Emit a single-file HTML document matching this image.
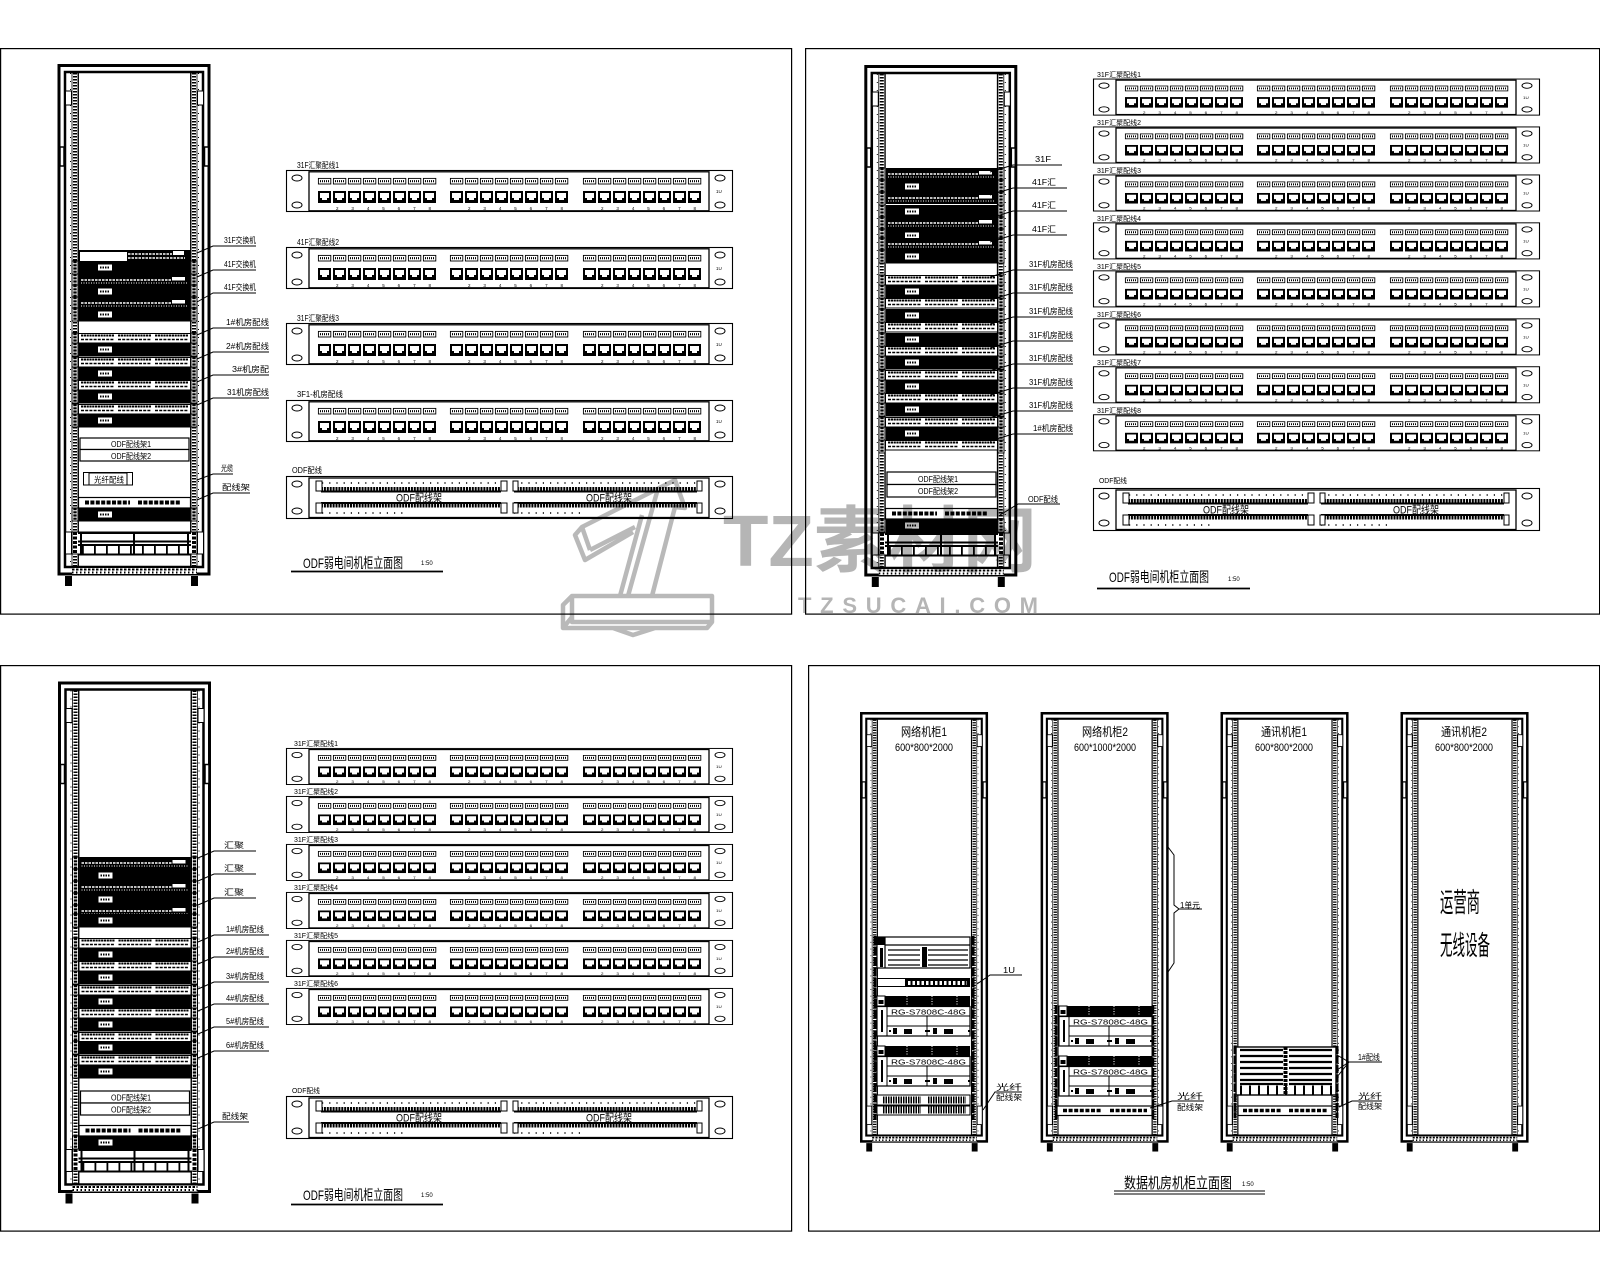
<!DOCTYPE html>
<html><head><meta charset="utf-8"><title>机柜立面图</title>
<style>html,body{margin:0;padding:0;background:#fff}svg{display:block}text{font-family:"Liberation Sans","Noto Sans CJK SC",sans-serif;fill:#000}</style></head>
<body>
<svg xmlns="http://www.w3.org/2000/svg" width="1600" height="1280" viewBox="0 0 1600 1280">
<defs>
<g id="rack">
<rect x="1.5" y="1.5" width="150" height="508.5" fill="#fff" stroke="#000" stroke-width="3"/>
<rect x="7.5" y="8" width="138" height="495" fill="none" stroke="#000" stroke-width="2.5"/>
<rect x="14.5" y="9" width="6" height="493" fill="#fff" stroke="#000" stroke-width=".8"/>
<rect x="133.5" y="9" width="6" height="493" fill="#fff" stroke="#000" stroke-width=".8"/>
<path d="M17.5 9V502M136.5 9V502" stroke="#000" stroke-width="4" stroke-dasharray="1.5 1.5" fill="none"/>
<path d="M20.8 9V502M133.2 9V502" stroke="#000" stroke-width="1.3" fill="none"/>
<path d="M13 9V502M141 9V502" stroke="#000" stroke-width="1" stroke-dasharray="1 7" fill="none"/>
<g fill="#fff" stroke="#000" stroke-width="1"><rect x="8" y="27" width="6" height="14"/><rect x="140" y="27" width="6" height="14"/><rect x="8" y="468" width="6" height="22"/><rect x="140" y="468" width="6" height="22"/></g>
<g fill="#fff" stroke="#000" stroke-width="1.5"><rect x="2.5" y="83" width="4" height="19"/><rect x="147" y="83" width="4" height="19"/></g>
<rect x="14.5" y="504" width="125" height="6" fill="#fff"/>
<path d="M14.5 505.5H139.5" stroke="#000" stroke-width="2" stroke-dasharray="2.5 1.5" fill="none"/>
<path d="M14.5 508.5H139.5" stroke="#000" stroke-width="2" stroke-dasharray="1.5 2.5" fill="none"/>
<rect x="7.5" y="512" width="7" height="10"/><rect x="133.5" y="512" width="7" height="10"/>
</g>
<g id="ear"><rect x="-6" width="6" height="13" fill="#fff" stroke="#000" stroke-width="1"/><rect x="113" width="6" height="13" fill="#fff" stroke="#000" stroke-width="1"/><path d="M-3 0V13M116 0V13" stroke="#000" stroke-width="3.4" stroke-dasharray="2.2 1"/></g>
<g id="b"><use href="#ear"/><rect x="1" width="111" height="13.5"/><rect x="20" y="3.5" width="14" height="6" fill="#fff"/><path d="M22 6.5H32" stroke="#000" stroke-width="2" stroke-dasharray="1.5 1"/></g>
<g id="s"><use href="#ear"/><rect x="1" width="111" height="12"/><path d="M3 6H93" stroke="#fff" stroke-width="1.5" stroke-dasharray="2.5 1"/><path d="M3 9H109" stroke="#fff" stroke-width="1" stroke-dasharray="1 1.5"/><rect x="94" y="3" width="13" height="3.5" fill="#fff"/></g>
<g id="pg"><path d="M0 2.5H33" stroke="#000" stroke-width="2" stroke-dasharray="2.2 .6"/><path d="M0 6.5H33" stroke="#000" stroke-width="1.6" stroke-dasharray="3 1.2"/></g>
<g id="pp"><use href="#ear"/><rect x=".5" y=".5" width="112" height="9.5" fill="#fff" stroke="#000"/><use href="#pg" x="3"/><use href="#pg" x="40"/><use href="#pg" x="77"/></g>
<g id="pd"><rect x=".5" y=".5" width="112" height="10.5" fill="#fff" stroke="#000" stroke-width="1.2"/><path d="M7 5.5H52M60 5.5H103" stroke="#000" stroke-width="4" stroke-dasharray="4 1.4"/></g>
<g id="bot"><rect x="-6" y="0" width="125" height="22" fill="#fff" stroke="#000" stroke-width="1"/><path d="M0 1H113M0 9.5H113M0 13H113M0 22.5H113" stroke="#000" stroke-width="2"/><path d="M56 0V22M3 0V22M110 0V22" stroke="#000" stroke-width="2"/><path d="M4 18H110" stroke="#000" stroke-width="9" stroke-dasharray="1.8 10.2"/><path d="M-3 0V22M116 0V22" stroke="#000" stroke-width="4" stroke-dasharray="3 1.5"/></g>
<g id="j"><rect width="13" height="12"/><path fill="#fff" d="M2 2h9v5h-2v2h-5v-2h-2z"/></g>
<g id="l"><rect x=".4" y=".4" width="12.4" height="5.6" fill="#fff" stroke="#000" stroke-width=".9"/><path d="M2 3.2H11" stroke="#000" stroke-width="2.2" stroke-dasharray="1 1"/></g>
<g id="g8"><use href="#l" x="0" y="8"/><use href="#l" x="15" y="8"/><use href="#l" x="30" y="8"/><use href="#l" x="45" y="8"/><use href="#l" x="60" y="8"/><use href="#l" x="75" y="8"/><use href="#l" x="90" y="8"/><use href="#l" x="105" y="8"/>
<use href="#j" y="21"/><use href="#j" x="15" y="21"/><use href="#j" x="30" y="21"/><use href="#j" x="45" y="21"/><use href="#j" x="60" y="21"/><use href="#j" x="75" y="21"/><use href="#j" x="90" y="21"/><use href="#j" x="105" y="21"/></g>
<g id="p"><rect x=".5" y=".5" width="446" height="41" fill="#fff" stroke="#000" stroke-width="1.1"/><rect x="23" y="1.8" width="400" height="39" fill="#fff" stroke="#000" stroke-width="1.3"/>
<g fill="#fff" stroke="#000" stroke-width="1"><ellipse cx="11" cy="8" rx="5" ry="3"/><ellipse cx="11" cy="35" rx="5" ry="3"/><ellipse cx="434" cy="8" rx="5" ry="3"/><ellipse cx="434" cy="35" rx="5" ry="3"/></g>
<use href="#g8" x="32"/><use href="#g8" x="164"/><use href="#g8" x="297"/>
<text x="50" y="40" font-size="4.5" textLength="95">2 3 4 5 6 7 8</text><text x="182" y="40" font-size="4.5" textLength="95">2 3 4 5 6 7 8</text><text x="315" y="40" font-size="4.5" textLength="95">2 3 4 5 6 7 8</text><text x="430" y="23" font-size="4.5">1U</text></g>
<g id="o"><rect x=".5" y=".5" width="446" height="42" fill="#fff" stroke="#000" stroke-width="1.1"/><rect x="23" y="2" width="400" height="39.5" fill="#fff" stroke="#000" stroke-width="1.3"/>
<g fill="#fff" stroke="#000" stroke-width="1"><ellipse cx="11" cy="8" rx="5" ry="3"/><ellipse cx="11" cy="35" rx="5" ry="3"/><ellipse cx="434" cy="8" rx="5" ry="3"/><ellipse cx="434" cy="35" rx="5" ry="3"/></g>
<path d="M35 13.5H215M228 13.5H411M35 29H215M228 29H411" stroke="#000" stroke-width="5" stroke-dasharray="2 .9"/>
<path d="M35 15.5H215M228 15.5H411M35 27H215M228 27H411" stroke="#000" stroke-width="2"/>
<path d="M36 7H215M228 7H411M36 37H120M228 37H300" stroke="#000" stroke-width="1.4" stroke-dasharray="1.2 6"/>
<g fill="#fff" stroke="#000" stroke-width="1"><rect x="30" y="5" width="6" height="10"/><rect x="215" y="5" width="6" height="10"/><rect x="227" y="5" width="5" height="10"/><rect x="411" y="5" width="5" height="10"/><rect x="30" y="27" width="6" height="10"/><rect x="215" y="27" width="6" height="10"/><rect x="227" y="27" width="5" height="10"/><rect x="411" y="27" width="5" height="10"/></g>
<text x="110" y="25.5" font-size="11" textLength="46" lengthAdjust="spacingAndGlyphs">ODF配线架</text><text x="300" y="25.5" font-size="11" textLength="46" lengthAdjust="spacingAndGlyphs">ODF配线架</text></g>
<g id="c"><rect x="8" width="85" height="10"/><path d="M30 0V10M55 0V10M80 0V10" stroke="#fff" stroke-width="1" stroke-dasharray="1 1.5"/><rect x="0" y="0" width="8" height="10" fill="#fff" stroke="#000"/><rect x="1.5" y="4" width="5" height="4"/>
<rect x="0" y="10.5" width="93" height="29.5" fill="#fff" stroke="#000" stroke-width="1.2"/><path d="M10 10.5V40M10 20H93M10 30H93M50 20V40" stroke="#000" stroke-width="1" fill="none"/><rect x="4" y="14" width="2" height="22"/>
<text x="14" y="18.5" font-size="7.5" textLength="75" lengthAdjust="spacingAndGlyphs">RG-S7808C-48G</text>
<rect x="16" y="32" width="4" height="6"/><rect x="27" y="33" width="8" height="5"/><rect x="56" y="32" width="4" height="6"/><rect x="67" y="33" width="9" height="5"/><path d="M12 35H14M48 35H53M91 35H93" stroke="#000" stroke-width="2"/></g>
</defs>
<rect width="1600" height="1280" fill="#fff"/>
<!-- frames -->
<g fill="none" stroke="#000" stroke-width="1.2"><rect x=".6" y="48.6" width="791" height="565.5"/><rect x="805.6" y="48.6" width="794" height="565.5"/><rect x=".6" y="665.6" width="791" height="565.5"/><rect x="808.6" y="665.6" width="791" height="565.5"/></g>

<!-- F1 rack -->
<use href="#rack" x="57.5" y="64"/>
<rect x="78" y="250" width="113" height="11"/><rect x="80" y="252" width="47" height="9" fill="#fff"/><path d="M128 254H172M128 258H185" stroke="#fff" stroke-width="1.5" stroke-dasharray="2.5 1"/><rect x="173" y="251" width="11" height="4" fill="#fff"/>
<use href="#b" x="78" y="261"/><use href="#s" x="78" y="274"/><use href="#b" x="78" y="285"/><use href="#s" x="78" y="297"/><use href="#b" x="78" y="308"/>
<use href="#pp" x="78" y="333"/><use href="#b" x="78" y="343"/><use href="#pp" x="78" y="357"/><use href="#b" x="78" y="367"/><use href="#pp" x="78" y="380"/><use href="#b" x="78" y="390"/><use href="#pp" x="78" y="404"/><use href="#b" x="78" y="414"/>
<rect x="80" y="438" width="109" height="11.5" fill="#fff" stroke="#000" stroke-width="1.2"/><rect x="80" y="449.5" width="109" height="11.5" fill="#fff" stroke="#000" stroke-width="1.2"/>
<text x="111" y="447" font-size="8" textLength="40" lengthAdjust="spacingAndGlyphs">ODF配线架1</text><text x="111" y="459" font-size="8" textLength="40" lengthAdjust="spacingAndGlyphs">ODF配线架2</text>
<rect x="83.5" y="472.5" width="49" height="12.5" fill="#fff" stroke="#000"/><rect x="89" y="473" width="38" height="12" fill="#fff" stroke="#000"/><text x="94" y="482.5" font-size="8" textLength="30" lengthAdjust="spacingAndGlyphs">光纤配线</text>
<use href="#pd" x="78" y="497"/><use href="#b" x="78" y="508"/><use href="#bot" x="78" y="532"/>
<!-- F2 rack -->
<use href="#rack" x="864.3" y="65"/>
<use href="#s" x="885" y="168"/><use href="#b" x="885" y="180"/><use href="#s" x="885" y="192"/><use href="#b" x="885" y="205"/><use href="#s" x="885" y="217"/><use href="#b" x="885" y="229"/><use href="#s" x="885" y="238"/><use href="#b" x="885" y="250"/>
<use href="#pp" x="885" y="275"/><use href="#b" x="885" y="285"/><use href="#pp" x="885" y="298"/><use href="#b" x="885" y="309"/><use href="#pp" x="885" y="322"/><use href="#b" x="885" y="333"/><use href="#pp" x="885" y="346"/><use href="#b" x="885" y="356"/><use href="#pp" x="885" y="370"/><use href="#b" x="885" y="380"/><use href="#pp" x="885" y="393"/><use href="#b" x="885" y="403"/><use href="#pp" x="885" y="417"/><use href="#b" x="885" y="427"/><use href="#pp" x="885" y="440"/>
<rect x="887" y="472" width="109" height="12.5" fill="#fff" stroke="#000" stroke-width="1.2"/><rect x="887" y="484.5" width="109" height="12.5" fill="#fff" stroke="#000" stroke-width="1.2"/>
<text x="918" y="482" font-size="8" textLength="40" lengthAdjust="spacingAndGlyphs">ODF配线架1</text><text x="918" y="494" font-size="8" textLength="40" lengthAdjust="spacingAndGlyphs">ODF配线架2</text>
<use href="#pd" x="885" y="508"/><use href="#b" x="885" y="519"/><use href="#bot" x="885" y="533"/>
<!-- F3 rack -->
<use href="#rack" x="58" y="681.5"/>
<use href="#s" x="78.5" y="857"/><use href="#b" x="78.5" y="869"/><use href="#s" x="78.5" y="881"/><use href="#b" x="78.5" y="893"/><use href="#s" x="78.5" y="905"/><use href="#b" x="78.5" y="914"/>
<use href="#pp" x="78.5" y="938"/><use href="#b" x="78.5" y="948"/><use href="#pp" x="78.5" y="961"/><use href="#b" x="78.5" y="971"/><use href="#pp" x="78.5" y="985"/><use href="#b" x="78.5" y="995"/><use href="#pp" x="78.5" y="1008"/><use href="#b" x="78.5" y="1018"/><use href="#pp" x="78.5" y="1032"/><use href="#b" x="78.5" y="1041"/><use href="#pp" x="78.5" y="1055"/><use href="#b" x="78.5" y="1065"/>
<rect x="80.5" y="1091" width="109" height="12" fill="#fff" stroke="#000" stroke-width="1.2"/><rect x="80.5" y="1103" width="109" height="12" fill="#fff" stroke="#000" stroke-width="1.2"/>
<text x="111" y="1100.5" font-size="8" textLength="40" lengthAdjust="spacingAndGlyphs">ODF配线架1</text><text x="111" y="1112.5" font-size="8" textLength="40" lengthAdjust="spacingAndGlyphs">ODF配线架2</text>
<use href="#pd" x="78.5" y="1125"/><use href="#b" x="78.5" y="1136"/><use href="#bot" x="78.5" y="1149"/>
<!-- F4 racks -->
<use href="#rack" transform="translate(860,712) scale(.837,.842)"/><use href="#rack" transform="translate(1040.6,712) scale(.837,.842)"/><use href="#rack" transform="translate(1220.5,712) scale(.837,.842)"/><use href="#rack" transform="translate(1400.5,712) scale(.837,.842)"/>
<g text-anchor="middle">
<text x="924" y="736" font-size="12" textLength="46" lengthAdjust="spacingAndGlyphs">网络机柜1</text><text x="924" y="751" font-size="11" textLength="58" lengthAdjust="spacingAndGlyphs">600*800*2000</text>
<text x="1105" y="736" font-size="12" textLength="46" lengthAdjust="spacingAndGlyphs">网络机柜2</text><text x="1105" y="751" font-size="11" textLength="62" lengthAdjust="spacingAndGlyphs">600*1000*2000</text>
<text x="1284" y="736" font-size="12" textLength="46" lengthAdjust="spacingAndGlyphs">通讯机柜1</text><text x="1284" y="751" font-size="11" textLength="58" lengthAdjust="spacingAndGlyphs">600*800*2000</text>
<text x="1464" y="736" font-size="12" textLength="46" lengthAdjust="spacingAndGlyphs">通讯机柜2</text><text x="1464" y="751" font-size="11" textLength="58" lengthAdjust="spacingAndGlyphs">600*800*2000</text>
<text x="1460" y="912" font-size="27" textLength="40" lengthAdjust="spacingAndGlyphs">运营商</text><text x="1465" y="955" font-size="27" textLength="50" lengthAdjust="spacingAndGlyphs">无线设备</text>
</g>
<!-- rack 1 units -->
<rect x="877" y="937" width="93" height="31" fill="#fff" stroke="#000" stroke-width="1.2"/><path d="M885 937V968M885 945H970M888 950H920M928 950H968M888 955H920M928 955H968M888 960H920M928 960H968M888 965H920M928 965H968" stroke="#000" fill="none" stroke-width="1.2"/><rect x="877" y="937" width="8" height="8"/><rect x="880" y="948" width="3" height="19"/><rect x="922" y="947" width="5" height="20"/>
<rect x="877" y="978" width="93" height="9"/><rect x="878" y="979" width="27" height="7" fill="#fff"/><path d="M908 983H967" stroke="#fff" stroke-width="4" stroke-dasharray="2.5 2"/>
<use href="#c" x="877" y="996"/><use href="#c" x="877" y="1046"/>
<rect x="877" y="1095" width="93" height="10" fill="#fff" stroke="#000"/><rect x="877" y="1106" width="93" height="9" fill="#fff" stroke="#000"/><path d="M883 1100H921M928 1100H966M883 1110H921M928 1110H966" stroke="#000" stroke-width="7" stroke-dasharray="1.5 1"/>
<path d="M875 936V1120M973 936V1120" stroke="#000" stroke-width="3" stroke-dasharray="9 1.5"/>
<!-- rack 2 units -->
<use href="#c" x="1059" y="1006"/><use href="#c" x="1059" y="1056"/>
<rect x="1057" y="1106" width="95" height="9.5" fill="#fff" stroke="#000" stroke-width="1.2"/><path d="M1063 1110.5H1101M1110 1110.5H1147" stroke="#000" stroke-width="3.5" stroke-dasharray="4 1.6"/>
<path d="M1056 1005V1120M1153 1005V1120" stroke="#000" stroke-width="2.5" stroke-dasharray="9 1.5"/>
<!-- rack 3 units -->
<rect x="1236" y="1047" width="100" height="48" fill="#fff" stroke="#000" stroke-width="1.4"/><path d="M1240 1050H1283M1289 1050H1332M1240 1056H1283M1289 1056H1332M1240 1062H1283M1289 1062H1332M1240 1068H1283M1289 1068H1332M1240 1074H1283M1289 1074H1332M1240 1080H1283M1289 1080H1332M1240 1084H1283M1289 1084H1332" stroke="#000" stroke-width="2.2"/>
<path d="M1285.5 1047V1095" stroke="#000" stroke-width="4" stroke-dasharray="3 1"/>
<path d="M1240 1090H1332" stroke="#000" stroke-width="9" stroke-dasharray="2 7"/>
<rect x="1238" y="1106" width="94" height="9.5" fill="#fff" stroke="#000" stroke-width="1.2"/><path d="M1243 1110.5H1281M1289 1110.5H1327" stroke="#000" stroke-width="3.5" stroke-dasharray="4 1.6"/>
<path d="M1235 1046V1118M1337 1046V1118" stroke="#000" stroke-width="3" stroke-dasharray="8 1.5"/>
<!-- panels F1 -->
<use href="#p" x="286" y="170"/><use href="#p" x="286" y="247"/><use href="#p" x="286" y="323"/><use href="#p" x="286" y="400"/><use href="#o" x="286" y="476"/>
<g font-size="8"><text x="297" y="168" textLength="42" lengthAdjust="spacingAndGlyphs">31F汇聚配线1</text><text x="297" y="245" textLength="42" lengthAdjust="spacingAndGlyphs">41F汇聚配线2</text><text x="297" y="321" textLength="42" lengthAdjust="spacingAndGlyphs">31F汇聚配线3</text><text x="297" y="397" textLength="46" lengthAdjust="spacingAndGlyphs">3F1-机房配线</text><text x="292" y="473" textLength="30" lengthAdjust="spacingAndGlyphs">ODF配线</text></g>
<!-- panels F2 -->
<g transform="translate(1093,78.6) scale(1,.88)"><use href="#p"/></g><g transform="translate(1093,126.5) scale(1,.88)"><use href="#p"/></g><g transform="translate(1093,174.5) scale(1,.88)"><use href="#p"/></g><g transform="translate(1093,222.4) scale(1,.88)"><use href="#p"/></g><g transform="translate(1093,270.4) scale(1,.88)"><use href="#p"/></g><g transform="translate(1093,318.4) scale(1,.88)"><use href="#p"/></g><g transform="translate(1093,366.3) scale(1,.88)"><use href="#p"/></g><g transform="translate(1093,414.3) scale(1,.88)"><use href="#p"/></g>
<use href="#o" x="1093" y="488"/>
<g font-size="7"><text x="1097" y="77" textLength="44" lengthAdjust="spacingAndGlyphs">31F汇聚配线1</text><text x="1097" y="125" textLength="44" lengthAdjust="spacingAndGlyphs">31F汇聚配线2</text><text x="1097" y="173" textLength="44" lengthAdjust="spacingAndGlyphs">31F汇聚配线3</text><text x="1097" y="221" textLength="44" lengthAdjust="spacingAndGlyphs">31F汇聚配线4</text><text x="1097" y="269" textLength="44" lengthAdjust="spacingAndGlyphs">31F汇聚配线5</text><text x="1097" y="317" textLength="44" lengthAdjust="spacingAndGlyphs">31F汇聚配线6</text><text x="1097" y="365" textLength="44" lengthAdjust="spacingAndGlyphs">31F汇聚配线7</text><text x="1097" y="413" textLength="44" lengthAdjust="spacingAndGlyphs">31F汇聚配线8</text><text x="1099" y="483" textLength="28" lengthAdjust="spacingAndGlyphs">ODF配线</text></g>
<!-- panels F3 -->
<g transform="translate(286,748) scale(1,.88)"><use href="#p"/></g><g transform="translate(286,796) scale(1,.88)"><use href="#p"/></g><g transform="translate(286,844) scale(1,.88)"><use href="#p"/></g><g transform="translate(286,892) scale(1,.88)"><use href="#p"/></g><g transform="translate(286,940) scale(1,.88)"><use href="#p"/></g><g transform="translate(286,988) scale(1,.88)"><use href="#p"/></g>
<use href="#o" x="286" y="1096"/>
<g font-size="7"><text x="294" y="746" textLength="44" lengthAdjust="spacingAndGlyphs">31F汇聚配线1</text><text x="294" y="794" textLength="44" lengthAdjust="spacingAndGlyphs">31F汇聚配线2</text><text x="294" y="842" textLength="44" lengthAdjust="spacingAndGlyphs">31F汇聚配线3</text><text x="294" y="890" textLength="44" lengthAdjust="spacingAndGlyphs">31F汇聚配线4</text><text x="294" y="938" textLength="44" lengthAdjust="spacingAndGlyphs">31F汇聚配线5</text><text x="294" y="986" textLength="44" lengthAdjust="spacingAndGlyphs">31F汇聚配线6</text><text x="292" y="1093" textLength="28" lengthAdjust="spacingAndGlyphs">ODF配线</text></g>
<!-- leaders -->
<path fill="none" stroke="#000" stroke-width="1" d="M197 253L213 246H256M197 277L213 270H256M197 302L213 293H256M197 335L213 328H269M197 359L213 352H269M197 382L213 375H269M197 405L213 398H269M197 480L213 474H233M197 500L213 493H250
M990 172L1013 165H1062M990 195L1013 188H1067M990 218L1013 211H1067M990 242L1013 235H1067M990 277L1013 270H1073M990 300L1013 293H1073M990 324L1013 317H1073M990 348L1013 341H1073M990 371L1013 364H1073M990 395L1013 388H1073M990 418L1013 411H1073M990 441L1013 434H1073M1000 515L1018 504H1060
M198 858L214 851H256M198 881L214 874H256M198 905L214 898H256M198 942L214 935H269M198 964L214 957H269M198 989L214 982H269M198 1011L214 1004H269M198 1034L214 1027H269M198 1058L214 1051H269M198 1129L214 1122H249
M977 984L990 975H1022M983 1110L995 1092H1022M1150 1108L1172 1101H1204M1337 1055L1349 1062H1382M1337 1070L1349 1062M1337 1077L1349 1062M1339 1107L1352 1101H1382
M1168 847L1174 855V905L1179 909L1174 913V963L1168 972M1179 909H1202"/>
<g font-size="8">
<text x="224" y="243" textLength="32" lengthAdjust="spacingAndGlyphs">31F交换机</text><text x="224" y="267" textLength="32" lengthAdjust="spacingAndGlyphs">41F交换机</text><text x="224" y="290" textLength="32" lengthAdjust="spacingAndGlyphs">41F交换机</text>
<text x="226" y="325" textLength="43" lengthAdjust="spacingAndGlyphs">1#机房配线</text><text x="226" y="349" textLength="43" lengthAdjust="spacingAndGlyphs">2#机房配线</text><text x="232" y="372" textLength="37" lengthAdjust="spacingAndGlyphs">3#机房配</text><text x="227" y="395" textLength="42" lengthAdjust="spacingAndGlyphs">31机房配线</text><text x="221" y="471" textLength="12" lengthAdjust="spacingAndGlyphs">光缆</text><text x="222" y="490" textLength="28" lengthAdjust="spacingAndGlyphs">配线架</text>
<text x="1035" y="162" textLength="16" lengthAdjust="spacingAndGlyphs">31F</text><text x="1032" y="185" textLength="24" lengthAdjust="spacingAndGlyphs">41F汇</text><text x="1032" y="208" textLength="24" lengthAdjust="spacingAndGlyphs">41F汇</text><text x="1032" y="232" textLength="24" lengthAdjust="spacingAndGlyphs">41F汇</text>
<text x="1029" y="267" textLength="44" lengthAdjust="spacingAndGlyphs">31F机房配线</text><text x="1029" y="290" textLength="44" lengthAdjust="spacingAndGlyphs">31F机房配线</text><text x="1029" y="314" textLength="44" lengthAdjust="spacingAndGlyphs">31F机房配线</text><text x="1029" y="338" textLength="44" lengthAdjust="spacingAndGlyphs">31F机房配线</text><text x="1029" y="361" textLength="44" lengthAdjust="spacingAndGlyphs">31F机房配线</text><text x="1029" y="385" textLength="44" lengthAdjust="spacingAndGlyphs">31F机房配线</text><text x="1029" y="408" textLength="44" lengthAdjust="spacingAndGlyphs">31F机房配线</text><text x="1033" y="431" textLength="40" lengthAdjust="spacingAndGlyphs">1#机房配线</text><text x="1028" y="502" textLength="30" lengthAdjust="spacingAndGlyphs">ODF配线</text>
<text x="224" y="848" textLength="20" lengthAdjust="spacingAndGlyphs">汇聚</text><text x="224" y="871" textLength="20" lengthAdjust="spacingAndGlyphs">汇聚</text><text x="224" y="895" textLength="20" lengthAdjust="spacingAndGlyphs">汇聚</text>
<text x="226" y="932" textLength="38" lengthAdjust="spacingAndGlyphs">1#机房配线</text><text x="226" y="954" textLength="38" lengthAdjust="spacingAndGlyphs">2#机房配线</text><text x="226" y="979" textLength="38" lengthAdjust="spacingAndGlyphs">3#机房配线</text><text x="226" y="1001" textLength="38" lengthAdjust="spacingAndGlyphs">4#机房配线</text><text x="226" y="1024" textLength="38" lengthAdjust="spacingAndGlyphs">5#机房配线</text><text x="226" y="1048" textLength="38" lengthAdjust="spacingAndGlyphs">6#机房配线</text><text x="222" y="1119" textLength="26" lengthAdjust="spacingAndGlyphs">配线架</text>
<text x="1003" y="973" textLength="12" lengthAdjust="spacingAndGlyphs">1U</text><text x="996" y="1090" textLength="26" lengthAdjust="spacingAndGlyphs">光纤</text><text x="996" y="1100" textLength="26" lengthAdjust="spacingAndGlyphs">配线架</text>
<text x="1177" y="1099" textLength="26" lengthAdjust="spacingAndGlyphs">光纤</text><text x="1177" y="1110" textLength="26" lengthAdjust="spacingAndGlyphs">配线架</text><text x="1180" y="908" textLength="20" lengthAdjust="spacingAndGlyphs">1单元</text>
<text x="1358" y="1060" textLength="22" lengthAdjust="spacingAndGlyphs">1#配线</text><text x="1358" y="1099" textLength="24" lengthAdjust="spacingAndGlyphs">光纤</text><text x="1358" y="1109" textLength="24" lengthAdjust="spacingAndGlyphs">配线架</text>
</g>
<!-- titles -->
<path stroke="#000" stroke-width="1.8" d="M291 571.5H443M1097 588.5H1250M291 1204.5H443"/><path stroke="#000" stroke-width="1" d="M1114 1191H1265M1114 1194H1265"/>
<g font-size="14">
<text x="303" y="568" textLength="100" lengthAdjust="spacingAndGlyphs">ODF弱电间机柜立面图</text><text x="1109" y="582" textLength="100" lengthAdjust="spacingAndGlyphs">ODF弱电间机柜立面图</text><text x="303" y="1200" textLength="100" lengthAdjust="spacingAndGlyphs">ODF弱电间机柜立面图</text><text x="1124" y="1188" font-size="15" textLength="108" lengthAdjust="spacingAndGlyphs">数据机房机柜立面图</text></g>
<g font-size="6"><text x="421" y="565">1:50</text><text x="1228" y="581">1:50</text><text x="421" y="1197">1:50</text><text x="1242" y="1186">1:50</text></g>
<!-- watermark -->
<g style="mix-blend-mode:multiply">
<g fill="none" stroke="#b9b9b9" stroke-width="4.5" stroke-linejoin="round"><path d="M572 596H712V622H572ZM572 596L563 605V628H707L712 622M572 617L563 628M613 628L633 635L655 628"/><path d="M620 596L642 515M628 596L657 492M652 596L675 507L685 508L675 480L582 527L575 535L585 560L633 532M590 550L635 527M582 527L590 550"/></g>
<text x="723" y="566" font-size="72" font-weight="bold" style="fill:#b5b5b5" textLength="314" lengthAdjust="spacingAndGlyphs">TZ素材网</text>
<text x="798" y="613" font-size="22" font-weight="bold" style="fill:#b5b5b5" textLength="240">TZSUCAI.COM</text>
</g>
</svg>
</body></html>
